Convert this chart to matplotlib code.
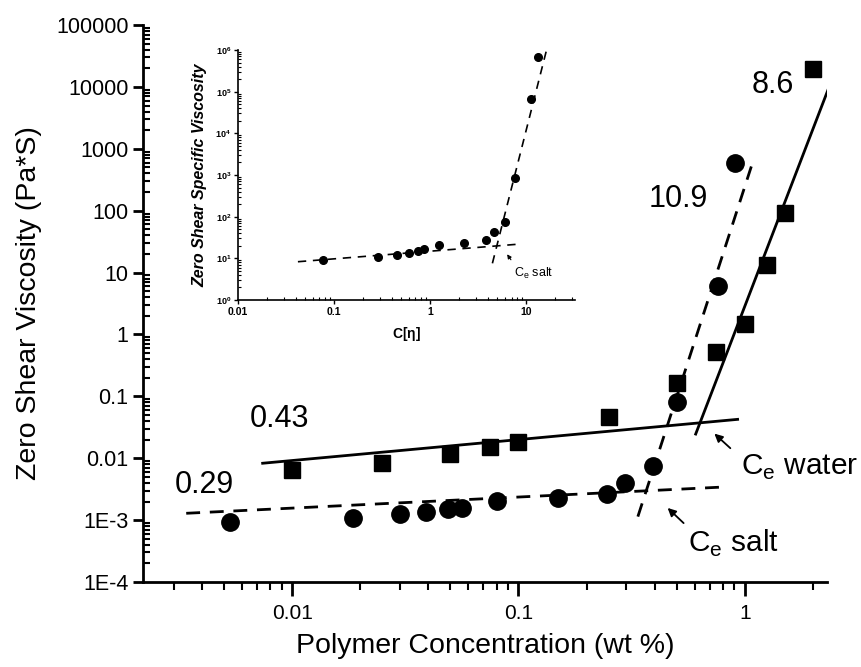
"""Zero shear viscosity vs polymer concentration, with C[eta] inset."""
import numpy as np
import matplotlib
matplotlib.use("Agg")
import matplotlib.pyplot as plt
from matplotlib.ticker import LogLocator, FixedLocator, FixedFormatter, NullFormatter

plt.rcParams["font.family"] = ["Liberation Sans", "DejaVu Sans"]
plt.rcParams["mathtext.fontset"] = "custom"
plt.rcParams["mathtext.rm"] = "Liberation Sans"
plt.rcParams["mathtext.bf"] = "Liberation Sans:bold"

# --- main plot data (wt %, Pa*s) ---
water_conc = [0.01, 0.025, 0.05, 0.075, 0.1, 0.25, 0.5, 0.75, 1.0, 1.25, 1.5, 2.0]
water_visc = [0.0065, 0.0085, 0.0117, 0.015, 0.018, 0.046, 0.165, 0.52, 1.5, 13.2, 92, 19500]

salt_conc = [0.0053, 0.0185, 0.03, 0.039, 0.049, 0.056, 0.08, 0.15, 0.245, 0.295, 0.395,
             0.5, 0.765, 0.91]
salt_visc = [0.00094, 0.0011, 0.00124, 0.00134, 0.0015, 0.0016, 0.00205, 0.0023, 0.0026,
             0.004, 0.0075, 0.082, 6.0, 600]

# fitted power-law segments (end points)
water_dilute_x = [0.0074, 0.93]
water_dilute_y = [0.0083, 0.0425]
water_entangled_x = [0.607, 2.61]
water_entangled_y = [0.0246, 26000]
salt_dilute_x = [0.0034, 0.77]
salt_dilute_y = [0.00129, 0.0034]
salt_entangled_x = [0.337, 1.08]
salt_entangled_y = [0.00114, 580]

# --- inset data (C[eta], specific viscosity) ---
inset_c = [0.077, 0.287, 0.452, 0.60, 0.754, 0.855, 1.24, 2.25, 3.78, 4.57, 6.0, 7.57,
           11.3, 13.2]
inset_visc = [9.1, 10.6, 12.0, 13.2, 15.3, 16.4, 20.5, 22.9, 27.5, 42, 76, 863, 6.7e4, 6.7e5]
inset_low_x = [0.042, 8.5]
inset_low_y = [8.3, 22]
inset_high_x = [4.43, 16.2]
inset_high_y = [7.6, 1.0e6]

y_ticks = [1e-4, 1e-3, 1e-2, 1e-1, 1, 10, 100, 1000, 1e4, 1e5]
y_labels = ["1E-4", "1E-3", "0.01", "0.1", "1", "10", "100", "1000", "10000", "100000"]
x_ticks = [0.01, 0.1, 1]
x_labels = ["0.01", "0.1", "1"]
inset_x_ticks = [0.01, 0.1, 1, 10]
inset_x_labels = ["0.01", "0.1", "1", "10"]
inset_y_ticks = [1, 10, 100, 1e3, 1e4, 1e5, 1e6]
inset_y_labels = [r"$\mathbf{10^{%d}}$" % i for i in range(7)]

fig = plt.figure(figsize=(8.62, 6.67), dpi=100)
ax = fig.add_axes([0.1659, 0.1274, 0.7935, 0.8351])

dash = (0, (5, 3.5))
ax.plot(water_dilute_x, water_dilute_y, "-", color="black", lw=2)
ax.plot(water_entangled_x, water_entangled_y, "-", color="black", lw=2)
ax.plot(salt_dilute_x, salt_dilute_y, color="black", lw=2, linestyle=dash)
ax.plot(salt_entangled_x, salt_entangled_y, color="black", lw=2, linestyle=dash)
ax.plot(water_conc, water_visc, "s", color="black", ms=11.5)
ax.plot(salt_conc, salt_visc, "o", color="black", ms=12.5)

ax.set_xscale("log")
ax.set_yscale("log")
ax.set_xlim(0.00219, 2.31)
ax.set_ylim(1e-4, 1e5)

for side in ("top", "right"):
    ax.spines[side].set_visible(False)
for side in ("left", "bottom"):
    ax.spines[side].set_linewidth(2)

ax.yaxis.set_major_locator(FixedLocator(y_ticks))
ax.yaxis.set_major_formatter(FixedFormatter(y_labels))
ax.yaxis.set_minor_locator(LogLocator(base=10, subs=np.arange(2, 10), numticks=20))
ax.yaxis.set_minor_formatter(NullFormatter())
ax.xaxis.set_major_locator(FixedLocator(x_ticks))
ax.xaxis.set_major_formatter(FixedFormatter(x_labels))
ax.xaxis.set_minor_locator(LogLocator(base=10, subs=np.arange(2, 10), numticks=20))
ax.xaxis.set_minor_formatter(NullFormatter())

ax.tick_params(axis="y", which="major", direction="out", length=7, width=2, labelsize=15.5)
ax.tick_params(axis="y", which="minor", direction="in", length=5, width=1.5)
ax.tick_params(axis="x", which="major", direction="out", length=10, width=2, labelsize=15, pad=6)
ax.tick_params(axis="x", which="minor", direction="out", length=6, width=1.5)

ax.set_xlabel("Polymer Concentration (wt %)", fontsize=20.5, labelpad=7)
ax.set_ylabel("Zero Shear Viscosity (Pa*S)", fontsize=20.5, labelpad=10)

ax.text(0.00875, 0.043, "0.43", fontsize=22, ha="center", va="center")
ax.text(0.0041, 0.0037, "0.29", fontsize=22, ha="center", va="center")
ax.text(0.51, 155, "10.9", fontsize=22, ha="center", va="center")
ax.text(1.33, 10700, "8.6", fontsize=22, ha="center", va="center")

ax.annotate("", xy=(0.719, 0.0268), xytext=(0.882, 0.01355),
            arrowprops=dict(arrowstyle="-|>", color="black", lw=1.3, mutation_scale=12))
ax.text(0.965, 0.00536, r"C$_\mathregular{e}$ water", fontsize=21.5, ha="left", va="baseline")
ax.annotate("", xy=(0.447, 0.00169), xytext=(0.548, 0.000834),
            arrowprops=dict(arrowstyle="-|>", color="black", lw=1.3, mutation_scale=12))
ax.text(0.56, 0.000306, r"C$_\mathregular{e}$ salt", fontsize=21.5, ha="left", va="baseline")

# --- inset ---
ins = fig.add_axes([0.2761, 0.5502, 0.3909, 0.3748])
ins.plot(inset_low_x, inset_low_y, color="black", lw=1.2, linestyle=(0, (5, 4)))
ins.plot(inset_high_x, inset_high_y, color="black", lw=1.2, linestyle=(0, (5, 4)))
ins.plot(inset_c, inset_visc, "o", color="black", ms=5.5)
ins.set_xscale("log")
ins.set_yscale("log")
ins.set_xlim(0.01, 32)
ins.set_ylim(1, 1e6)
ins.patch.set_alpha(0)
for side in ("top", "right"):
    ins.spines[side].set_visible(False)
for side in ("left", "bottom"):
    ins.spines[side].set_linewidth(1.2)

ins.xaxis.set_major_locator(FixedLocator(inset_x_ticks))
ins.xaxis.set_major_formatter(FixedFormatter(inset_x_labels))
ins.xaxis.set_minor_locator(LogLocator(base=10, subs=np.arange(2, 10), numticks=20))
ins.xaxis.set_minor_formatter(NullFormatter())
ins.yaxis.set_major_locator(FixedLocator(inset_y_ticks))
ins.yaxis.set_major_formatter(FixedFormatter(inset_y_labels))
ins.yaxis.set_minor_locator(LogLocator(base=10, subs=np.arange(2, 10), numticks=20))
ins.yaxis.set_minor_formatter(NullFormatter())
ins.tick_params(which="major", direction="out", length=3, width=1, labelsize=7.5, pad=2)
ins.tick_params(axis="y", which="major", labelsize=6.5)
ins.tick_params(which="minor", direction="in", length=2, width=0.8)
for lbl in ins.get_xticklabels():
    lbl.set_fontweight("bold")

ins.set_xlabel(r"C[$\mathbf{\eta}$]", fontsize=10, fontweight="bold", labelpad=6)
ins.set_ylabel("Zero Shear Specific Viscosity", fontsize=11.5, fontweight="bold",
               fontstyle="italic", labelpad=6)
ins.annotate("", xy=(6.07, 14.2), xytext=(7.17, 8.15),
             arrowprops=dict(arrowstyle="-|>", color="black", lw=0.8, mutation_scale=6))
ins.text(7.5, 3.6, r"C$_\mathregular{e}$ salt", fontsize=9, ha="left", va="baseline")

fig.savefig("out.png", dpi=100)
